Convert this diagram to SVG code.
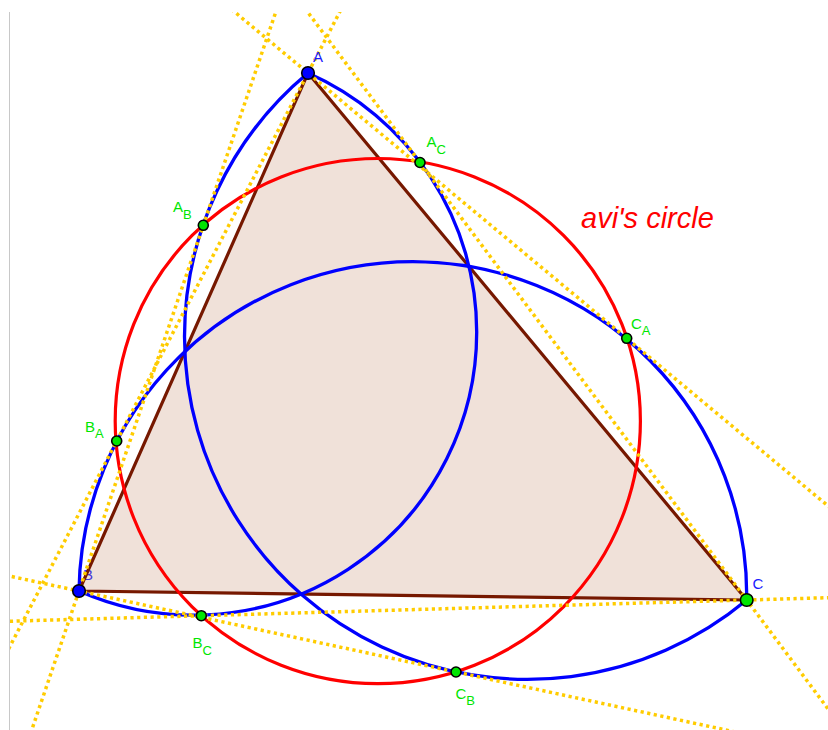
<svg xmlns="http://www.w3.org/2000/svg" width="828" height="730" viewBox="0 0 828 730">
  <defs>
    <clipPath id="view"><rect x="10" y="12" width="818" height="718"/></clipPath>
    <style>
      .dot { stroke: #ffcc00; stroke-width: 3.5; stroke-dasharray: 3.2 3.5; fill: none; }
      .blue { stroke: #0000ff; stroke-width: 3.3; fill: none; }
      .red { stroke: #ff0000; stroke-width: 3.2; fill: none; }
      .side { stroke: #761800; stroke-width: 3.2; stroke-linejoin: round; }
      .pt { fill: #00e600; stroke: #000; stroke-width: 1.6; }
      .vtx { fill: #0000ff; stroke: #000; stroke-width: 1.6; }
      .lbl { font-family: "Liberation Sans", Arial, sans-serif; font-size: 15px; }
      .g { fill: #00e600; }
      .b { fill: #1a1aff; }
      .sub { font-size: 13px; }
    </style>
  </defs>
  <rect width="828" height="730" fill="#ffffff"/>
  <line x1="9.5" y1="12" x2="9.5" y2="730" stroke="#c8c8c8" stroke-width="1"/>

  <g id="label-B"><text class="lbl" x="83" y="580" fill="#3a3aff">B</text></g>

  <g id="triangle">
    <polygon class="side" points="308,73 79,591 746.7,600" style="fill:#993300;fill-opacity:0.15"/>
  </g>

  <g id="avis-circle">
    <circle class="red" cx="377.8" cy="421.1" r="262.6"/>
  </g>

  <g id="thales-arcs">
    <path id="arc-AB" class="blue" d="M308,73 A283.2,283.2 0 0 1 476.7,332 A283.2,283.2 0 0 1 79,591"/>
    <path id="arc-AC" class="blue" d="M308,73 A342.85,342.85 0 0 0 184.5,336.5 A342.85,342.85 0 0 0 746.7,600"/>
    <path id="arc-BC" class="blue" d="M79,591 A333.9,333.9 0 0 1 412.85,261.6 A333.9,333.9 0 0 1 746.7,600"/>
  </g>

  <g id="connectors" clip-path="url(#view)">
    <line class="dot" x1="-10.7" y1="-192.3" x2="945.4" y2="603.6"/>
    <line class="dot" x1="256.65" y1="-56.25" x2="910.05" y2="818.75"/>
    <line class="dot" x1="365.4" y1="-37.4" x2="-74.6" y2="809"/>
    <line class="dot" x1="290.3" y1="-30.7" x2="4.4" y2="810.4"/>
    <line class="dot" x1="-34.1" y1="566.7" x2="908.4" y2="769.2"/>
    <line class="dot" x1="-16.9" y1="622" x2="910.3" y2="595.3"/>
  </g>

  <g id="point-A">
    <circle class="vtx" cx="308" cy="73" r="6.3"/>
    <text class="lbl b" x="313" y="62">A</text>
  </g>
  <g id="point-B">
    <circle class="vtx" cx="79" cy="591" r="6.3"/>
  </g>
  <g id="point-C">
    <circle class="pt" cx="746.7" cy="600" r="6.3"/>
    <text class="lbl b" x="752.5" y="588.5">C</text>
  </g>
  <g id="point-AC">
    <circle class="pt" cx="420" cy="162.5" r="5"/>
    <text class="lbl g" x="426.5" y="147">A<tspan class="sub" dy="6.5">C</tspan></text>
  </g>
  <g id="point-AB">
    <circle class="pt" cx="203.3" cy="225.3" r="5"/>
    <text class="lbl g" x="173" y="212">A<tspan class="sub" dy="6.5">B</tspan></text>
  </g>
  <g id="point-BA">
    <circle class="pt" cx="116.7" cy="441" r="5"/>
    <text class="lbl g" x="85" y="432">B<tspan class="sub" dy="6">A</tspan></text>
  </g>
  <g id="point-BC">
    <circle class="pt" cx="201.3" cy="615.7" r="5"/>
    <text class="lbl g" x="192.5" y="648">B<tspan class="sub" dy="6.5">C</tspan></text>
  </g>
  <g id="point-CB">
    <circle class="pt" cx="456" cy="672" r="5"/>
    <text class="lbl g" x="455.5" y="699">C<tspan class="sub" dy="6">B</tspan></text>
  </g>
  <g id="point-CA">
    <circle class="pt" cx="626.7" cy="338.3" r="5"/>
    <text class="lbl g" x="631" y="328.5">C<tspan class="sub" dy="6">A</tspan></text>
  </g>

  <g id="title">
    <text x="581" y="228" fill="#ff0000" font-family="'Liberation Sans', Arial, sans-serif" font-style="italic" font-size="29">avi's circle</text>
  </g>
</svg>
